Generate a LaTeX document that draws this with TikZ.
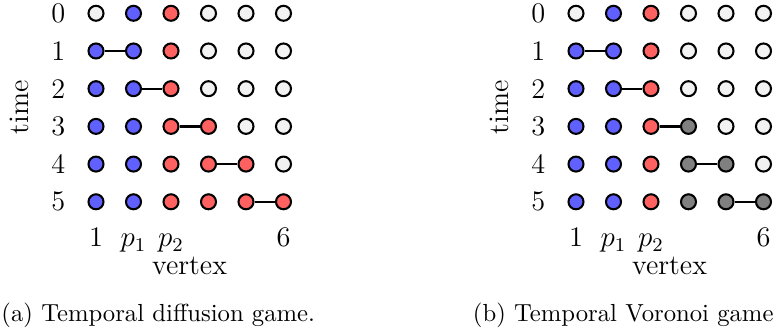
\documentclass[tikz,border=0pt]{standalone}
\definecolor{colb}{RGB}{96,96,255}
\definecolor{colr}{RGB}{255,96,96}
\definecolor{colw}{RGB}{242,242,242}
\definecolor{colg}{RGB}{128,128,128}
\tikzset{
  vx/.style={circle, draw=black, line width=0.85pt, minimum size=6.2pt, inner sep=0pt},
  edgeline/.style={line width=0.95pt},
  lab/.style={font=\fontsize{11.7}{14}\selectfont, inner sep=0pt},
  captext/.style={font=\fontsize{10.2}{12}\selectfont, inner sep=0pt, anchor=base}
}
\begin{document}
\begin{tikzpicture}[x=0.4132pt, y=-0.4132pt]
\useasboundingbox (0,0) rectangle (775,336);
% ---------- panel (a) ----------
\foreach \t/\cols in {0/{w,b,r,w,w,w},1/{b,b,r,w,w,w},2/{b,b,r,w,w,w},3/{b,b,r,r,w,w},4/{b,b,r,r,r,w},5/{b,b,r,r,r,r}}{
  \node[lab] (at\t) at (58.3,{13.3+37.7*\t}) {\t};
  \foreach \c [count=\i] in \cols {
    \node[vx, fill=col\c] (a\t\i) at ({96+37.5*(\i-1)},{13.3+37.7*\t}) {};
  }
}
\draw[edgeline] (a11) -- (a12);
\draw[edgeline] (a22) -- (a23);
\draw[edgeline] (a33) -- (a34);
\draw[edgeline] (a44) -- (a45);
\draw[edgeline] (a55) -- (a56);
\node[lab, rotate=90] (atime) at (19,107.5) {time};
\node[lab, anchor=base] (ac1) at (96,246.7) {1};
\node[lab, anchor=base] (ac2) at (133.5,246.7) {$p_1$};
\node[lab, anchor=base] (ac3) at (171,246.7) {$p_2$};
\node[lab, anchor=base] (ac6) at (283.5,246.7) {6};
\node[lab, anchor=base] (avx) at (189.5,275) {vertex};
\node[captext, anchor=base west] (acap) at (1,322) {(a) Temporal diffusion game.};
% ---------- panel (b) ----------
\foreach \t/\cols in {0/{w,b,r,w,w,w},1/{b,b,r,w,w,w},2/{b,b,r,w,w,w},3/{b,b,r,g,w,w},4/{b,b,r,g,g,w},5/{b,b,r,g,g,g}}{
  \node[lab] (bt\t) at (538.3,{13.3+37.7*\t}) {\t};
  \foreach \c [count=\i] in \cols {
    \node[vx, fill=col\c] (b\t\i) at ({576+37.5*(\i-1)},{13.3+37.7*\t}) {};
  }
}
\draw[edgeline] (b11) -- (b12);
\draw[edgeline] (b22) -- (b23);
\draw[edgeline] (b33) -- (b34);
\draw[edgeline] (b44) -- (b45);
\draw[edgeline] (b55) -- (b56);
\node[lab, rotate=90] (btime) at (499,107.5) {time};
\node[lab, anchor=base] (bc1) at (576,246.7) {1};
\node[lab, anchor=base] (bc2) at (613.5,246.7) {$p_1$};
\node[lab, anchor=base] (bc3) at (651,246.7) {$p_2$};
\node[lab, anchor=base] (bc6) at (763.5,246.7) {6};
\node[lab, anchor=base] (bvx) at (669.5,275) {vertex};
\node[captext, anchor=base west] (bcap) at (472.5,322) {(b) Temporal Voronoi game};
\end{tikzpicture}
\end{document}
